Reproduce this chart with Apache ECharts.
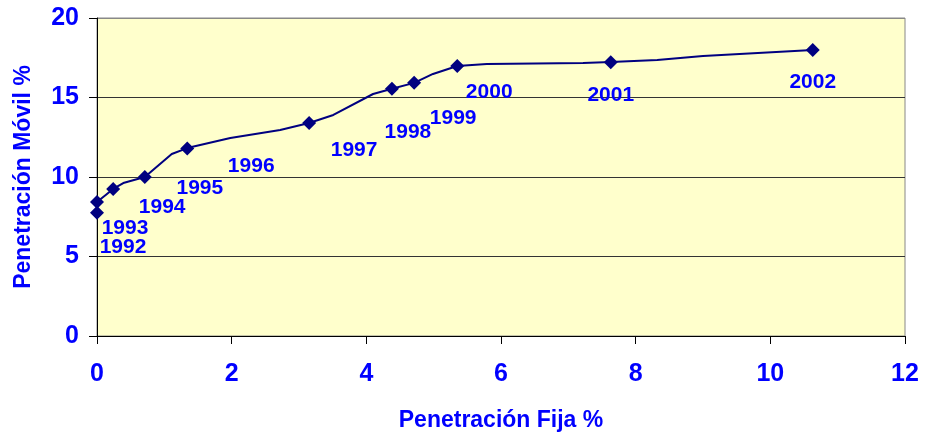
<!DOCTYPE html>
<html>
<head>
<meta charset="utf-8">
<script src="https://cdn.jsdelivr.net/npm/echarts@6/dist/echarts.min.js"></script>
<style>
html,body{margin:0;padding:0;background:#fff;}
#c{width:925px;height:439px;}
</style>
</head>
<body>
<div id="c"></div>
<script>
// Annual markers
const years = ['1992','1993','1994','1995','1996','1997','1998','1999','2000','2001','2002'];
const fixedPen = [0, 0, 0.24, 0.71, 1.34, 3.15, 4.38, 4.71, 5.35, 7.63, 10.63];
const mobilePen = [7.75, 8.43, 9.25, 10.0, 11.8, 13.4, 15.55, 15.92, 16.98, 17.22, 17.99];
// Trace line
const traceFixed = [0, 0, 0.24, 0.39, 0.71, 1.11, 1.34, 1.98, 2.72, 3.15, 3.51, 4.10, 4.38, 4.71, 4.99, 5.35, 5.79, 7.22, 7.63, 8.32, 9.00, 10.63];
const traceMobile = [7.75, 8.43, 9.25, 9.62, 10.0, 11.45, 11.82, 12.45, 12.96, 13.4, 13.9, 15.22, 15.55, 15.92, 16.48, 16.98, 17.11, 17.17, 17.23, 17.36, 17.61, 17.99];
// Label placement (pixel offsets from each marker)
const labelOffsets = [[26,34],[28,26],[49,18],[55,11],[64,18],[45,27],[16,43],[39,35],[32,26],[0,33],[0,32]];

const FONT = '"Liberation Sans", Arial, sans-serif';
const BLUE = '#0000FF';
const NAVY = '#000080';

const chart = echarts.init(document.getElementById('c'));
chart.setOption({
  animation: false,
  grid: {
    left: 97, right: 20, top: 18, bottom: 103,
    show: true, backgroundColor: '#FFFFCC', borderColor: '#888888', borderWidth: 1
  },
  xAxis: {
    type: 'value', min: 0, max: 12, interval: 2,
    name: 'Penetración Fija %', nameLocation: 'middle', nameGap: 73,
    nameTextStyle: { color: BLUE, fontFamily: FONT, fontWeight: 'bold', fontSize: 23 },
    axisLine: { show: true, onZero: false, lineStyle: { color: '#000', width: 1 } },
    axisTick: { show: true, inside: false, length: 8, lineStyle: { color: '#000' } },
    axisLabel: { color: BLUE, fontFamily: FONT, fontWeight: 'bold', fontSize: 25, margin: 26 },
    splitLine: { show: false }
  },
  yAxis: {
    type: 'value', min: 0, max: 20, interval: 5,
    name: 'Penetración Móvil %', nameLocation: 'middle', nameGap: 62, nameRotate: 90,
    nameTextStyle: { color: BLUE, fontFamily: FONT, fontWeight: 'bold', fontSize: 23 },
    axisLine: { show: true, onZero: false, lineStyle: { color: '#000', width: 1 } },
    axisTick: { show: true, inside: false, length: 8, lineStyle: { color: '#000' } },
    axisLabel: { color: BLUE, fontFamily: FONT, fontWeight: 'bold', fontSize: 25, margin: 18 },
    splitLine: { show: true, lineStyle: { color: ['#000', '#333', '#333', '#333', '#888'], width: 1 } }
  },
  series: [
    {
      type: 'line',
      data: traceFixed.map((x, i) => [x, traceMobile[i]]),
      showSymbol: false,
      smooth: false,
      lineStyle: { color: NAVY, width: 2 },
      z: 2
    },
    {
      type: 'scatter',
      symbol: 'diamond',
      symbolSize: 14,
      itemStyle: { color: NAVY, opacity: 1 },
      z: 3,
      data: fixedPen.map((x, i) => ({
        value: [x, mobilePen[i]],
        label: {
          show: true,
          formatter: years[i],
          position: 'inside',
          offset: labelOffsets[i],
          opacity: 1,
          color: BLUE, fontFamily: FONT, fontWeight: 'bold', fontSize: 21
        }
      }))
    }
  ]
});
</script>
</body>
</html>
